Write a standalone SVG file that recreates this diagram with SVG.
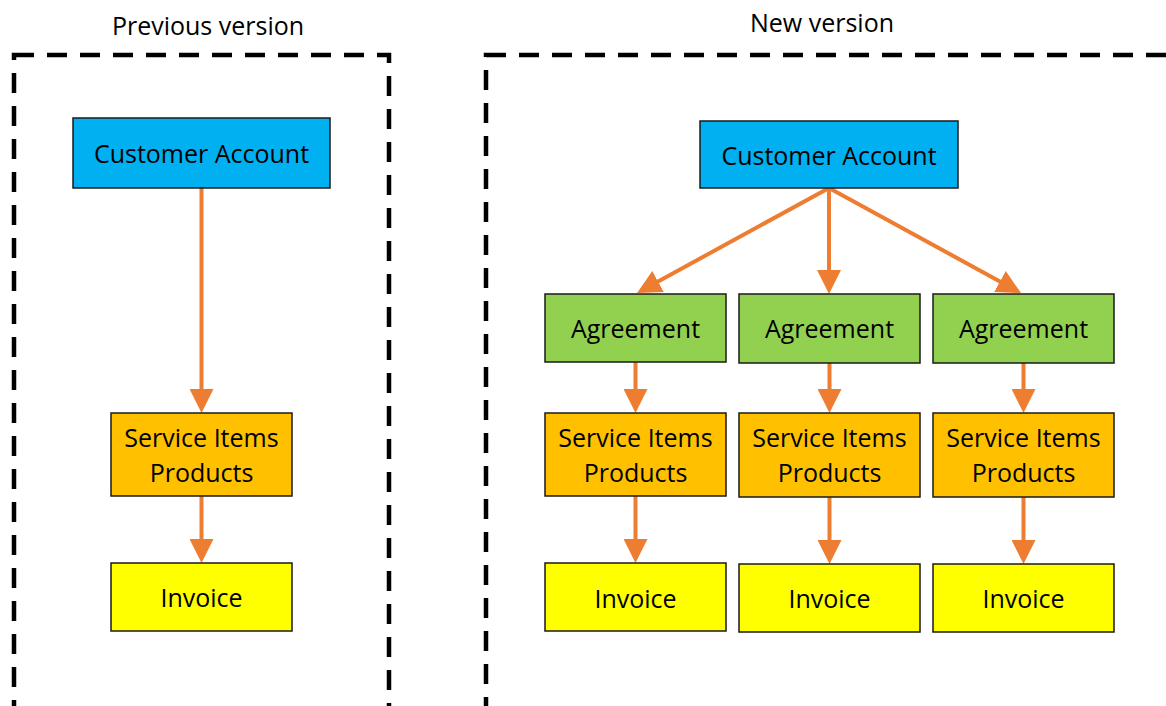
<svg xmlns="http://www.w3.org/2000/svg" width="1166" height="706" viewBox="0 0 1166 706">
  <defs>
    <style>
      .frame { fill: none; stroke: #000; stroke-width: 4.5; stroke-dasharray: 20 13; }
      .box { stroke: #1a1a1a; stroke-width: 1.5; }
      .blue { fill: #00B0F0; }
      .green { fill: #92D050; }
      .orange { fill: #FFC000; }
      .yellow { fill: #FFFF00; }
      text { font-family: "Open Sans", "Liberation Sans", sans-serif; font-size: 25px; fill: #000; text-anchor: middle; }
      .conn line { stroke: #ED7D31; stroke-width: 4; marker-end: url(#arrow); }
    </style>
    <marker id="arrow" markerUnits="userSpaceOnUse" markerWidth="24" markerHeight="24" refX="14" refY="12" orient="auto" viewBox="0 0 24 24">
      <path d="M0,0 L24,12 L0,24 z" fill="#ED7D31"/>
    </marker>
  </defs>
  <rect width="1166" height="706" fill="#fff"/>

  <g id="previous-frame">
    <rect class="frame" x="14" y="55" width="375" height="700"/>
    <text x="208" y="35">Previous version</text>
  </g>
  <g id="new-frame">
    <rect class="frame" x="486" y="55" width="720" height="700"/>
    <text x="822" y="32">New version</text>
  </g>

  <g class="conn" id="connectors">
    <line x1="201.5" y1="188" x2="201.5" y2="403"/>
    <line x1="201.5" y1="496" x2="201.5" y2="553"/>
    <line x1="829" y1="188" x2="645.8" y2="288.2"/>
    <line x1="829" y1="188" x2="829" y2="284"/>
    <line x1="829" y1="188" x2="1012.2" y2="288.2"/>
    <line x1="635.5" y1="362" x2="635.5" y2="403"/>
    <line x1="829.5" y1="363" x2="829.5" y2="403"/>
    <line x1="1023.5" y1="363" x2="1023.5" y2="403"/>
    <line x1="635.5" y1="496" x2="635.5" y2="553"/>
    <line x1="829.5" y1="497" x2="829.5" y2="554"/>
    <line x1="1023.5" y1="497" x2="1023.5" y2="554"/>
  </g>

  <g id="prev-customer-account">
    <rect class="box blue" x="73" y="118" width="257" height="70"/>
    <text x="201.5" y="163">Customer Account</text>
  </g>
  <g id="prev-service-items">
    <rect class="box orange" x="111" y="413" width="181" height="83"/>
    <text x="201.5" y="447">Service Items</text>
    <text x="201.5" y="482">Products</text>
  </g>
  <g id="prev-invoice">
    <rect class="box yellow" x="111" y="563" width="181" height="68"/>
    <text x="201.5" y="607">Invoice</text>
  </g>

  <g id="new-customer-account">
    <rect class="box blue" x="700" y="121" width="258" height="67"/>
    <text x="829" y="165">Customer Account</text>
  </g>

  <g id="agreement-1">
    <rect class="box green" x="545" y="294" width="181" height="68"/>
    <text x="635.5" y="338">Agreement</text>
  </g>
  <g id="agreement-2">
    <rect class="box green" x="739" y="294" width="181" height="69"/>
    <text x="829.5" y="338">Agreement</text>
  </g>
  <g id="agreement-3">
    <rect class="box green" x="933" y="294" width="181" height="69"/>
    <text x="1023.5" y="338">Agreement</text>
  </g>

  <g id="service-items-1">
    <rect class="box orange" x="545" y="413" width="181" height="83"/>
    <text x="635.5" y="447">Service Items</text>
    <text x="635.5" y="482">Products</text>
  </g>
  <g id="service-items-2">
    <rect class="box orange" x="739" y="413" width="181" height="84"/>
    <text x="829.5" y="447">Service Items</text>
    <text x="829.5" y="482">Products</text>
  </g>
  <g id="service-items-3">
    <rect class="box orange" x="933" y="413" width="181" height="84"/>
    <text x="1023.5" y="447">Service Items</text>
    <text x="1023.5" y="482">Products</text>
  </g>

  <g id="invoice-1">
    <rect class="box yellow" x="545" y="563" width="181" height="68"/>
    <text x="635.5" y="608">Invoice</text>
  </g>
  <g id="invoice-2">
    <rect class="box yellow" x="739" y="564" width="181" height="68"/>
    <text x="829.5" y="608">Invoice</text>
  </g>
  <g id="invoice-3">
    <rect class="box yellow" x="933" y="564" width="181" height="68"/>
    <text x="1023.5" y="608">Invoice</text>
  </g>
</svg>
